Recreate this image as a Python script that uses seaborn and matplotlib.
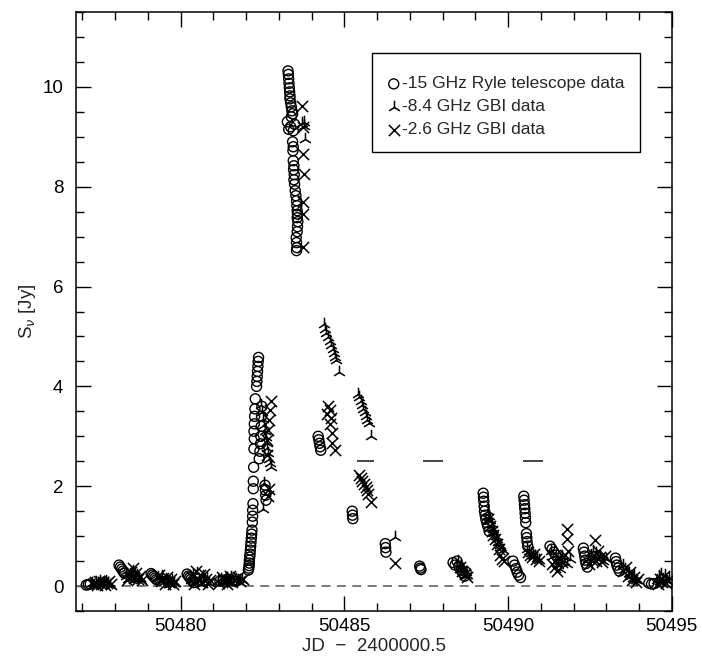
import matplotlib
matplotlib.use("Agg")
import matplotlib.pyplot as plt
from matplotlib.ticker import MultipleLocator
import seaborn as sns
import pandas as pd

# 15 GHz Ryle telescope light curve
ryle_day = [
    50477.12, 50477.18, 50477.24,
    50478.12, 50478.16, 50478.20, 50478.24, 50478.28,
    50479.10, 50479.14, 50479.18, 50479.22, 50479.26,
    50480.20, 50480.24, 50480.28, 50480.32, 50480.36, 50480.40,
    50481.20, 50481.30, 50481.40, 50481.50, 50481.60, 50481.70,
    50482.07, 50482.08, 50482.09, 50482.10, 50482.10, 50482.11, 50482.12, 50482.13,
    50482.14, 50482.15, 50482.16, 50482.17, 50482.18,
    50482.19, 50482.20, 50482.20, 50482.21,
    50482.22, 50482.22, 50482.23, 50482.24, 50482.25,
    50482.24, 50482.25, 50482.26, 50482.27, 50482.28,
    50482.40, 50482.42, 50482.44, 50482.45, 50482.46, 50482.47, 50482.48,
    50482.32, 50482.33, 50482.34, 50482.35, 50482.36, 50482.37, 50482.38,
    50482.58, 50482.59, 50482.60, 50482.61,
    50483.28, 50483.29, 50483.30, 50483.31, 50483.32, 50483.33, 50483.34,
    50483.34, 50483.36, 50483.38, 50483.40, 50483.42, 50483.38,
    50483.26, 50483.48, 50483.30, 50483.44, 50483.36,
    50483.42, 50483.44, 50483.43,
    50483.44, 50483.46, 50483.45, 50483.47, 50483.46, 50483.48,
    50483.50, 50483.52, 50483.54, 50483.55, 50483.56, 50483.57, 50483.56, 50483.58,
    50483.57, 50483.56,
    50483.53, 50483.54, 50483.55, 50483.54,
    50484.20, 50484.22, 50484.24, 50484.26, 50484.28,
    50485.24, 50485.25, 50485.26,
    50486.25, 50486.26, 50486.27,
    50487.30, 50487.32, 50487.34,
    50488.32, 50488.38, 50488.44, 50488.50, 50488.56, 50488.62, 50488.68, 50488.72,
    50489.24, 50489.25, 50489.26, 50489.27, 50489.28, 50489.30, 50489.32, 50489.35,
    50489.38, 50489.42,
    50490.15, 50490.20, 50490.24, 50490.28, 50490.32, 50490.38,
    50490.48, 50490.49, 50490.50, 50490.51, 50490.52, 50490.53, 50490.54, 50490.56,
    50490.57, 50490.58, 50490.60,
    50491.28, 50491.34, 50491.40, 50491.46, 50491.52, 50491.58,
    50492.30, 50492.32, 50492.34, 50492.36, 50492.38, 50492.42,
    50493.28, 50493.30, 50493.32, 50493.36, 50493.40,
    50494.30, 50494.38, 50494.46,
]
ryle_flux = [
    0.02, 0.03, 0.04,
    0.42, 0.38, 0.34, 0.30, 0.26,
    0.25, 0.22, 0.19, 0.16, 0.13,
    0.24, 0.20, 0.17, 0.14, 0.10, 0.07,
    0.10, 0.12, 0.09, 0.13, 0.11, 0.10,
    0.32, 0.36, 0.41, 0.46, 0.52, 0.58, 0.64, 0.72,
    0.80, 0.88, 0.96, 1.04, 1.12,
    1.28, 1.40, 1.52, 1.65,
    1.95, 2.10, 2.38, 2.75, 2.95,
    3.10, 3.25, 3.40, 3.55, 3.75,
    2.55, 2.70, 2.85, 3.00, 3.20, 3.40, 3.60,
    4.00, 4.10, 4.20, 4.30, 4.40, 4.50, 4.58,
    2.02, 1.92, 1.82, 1.72,
    10.32, 10.25, 10.16, 10.07, 9.98, 9.90, 9.82,
    9.76, 9.68, 9.60, 9.52, 9.46, 9.40,
    9.30, 9.25, 9.15, 9.12, 9.20,
    8.90, 8.80, 8.72,
    8.52, 8.42, 8.34, 8.24, 8.14, 8.05,
    7.92, 7.82, 7.72, 7.62, 7.52, 7.45, 7.38, 7.30,
    7.20, 7.10,
    6.98, 6.88, 6.78, 6.72,
    3.00, 2.93, 2.86, 2.79, 2.72,
    1.50, 1.42, 1.35,
    0.85, 0.77, 0.68,
    0.40, 0.36, 0.33,
    0.47, 0.42, 0.50, 0.40, 0.32, 0.26, 0.20, 0.28,
    1.86, 1.78, 1.70, 1.60, 1.50, 1.42, 1.34, 1.27,
    1.20, 1.10,
    0.50, 0.42, 0.35, 0.28, 0.22, 0.17,
    1.80, 1.72, 1.63, 1.55, 1.46, 1.37, 1.27, 1.05,
    0.97, 0.89, 0.80,
    0.80, 0.74, 0.68, 0.62, 0.56, 0.50,
    0.76, 0.68, 0.60, 0.52, 0.45, 0.38,
    0.56, 0.49, 0.42, 0.36, 0.30,
    0.06, 0.04, 0.05,
]

# 8.4 GHz GBI light curve
gbi8_day = [
    50477.30, 50477.36, 50477.42, 50477.48, 50477.54, 50477.60, 50477.66, 50477.72,
    50477.78, 50477.84,
    50478.32, 50478.38, 50478.44, 50478.50, 50478.56, 50478.60, 50478.66, 50478.72,
    50478.78,
    50479.32, 50479.38, 50479.44, 50479.50, 50479.56, 50479.62, 50479.68, 50479.74,
    50479.80,
    50480.32, 50480.38, 50480.44, 50480.50, 50480.56, 50480.62, 50480.68, 50480.74,
    50480.80, 50480.86,
    50481.15, 50481.22, 50481.30, 50481.38, 50481.46, 50481.54, 50481.62, 50481.70,
    50481.78, 50481.86,
    50482.46, 50482.50, 50482.53, 50482.56, 50482.58, 50482.60, 50482.63, 50482.65,
    50482.68, 50482.70, 50482.72, 50482.75,
    50482.56, 50482.53,
    50483.72, 50483.76, 50483.78, 50483.80,
    50484.38, 50484.42, 50484.45, 50484.50, 50484.55, 50484.60, 50484.64, 50484.68,
    50484.72, 50484.76, 50484.84,
    50485.42, 50485.46, 50485.50, 50485.54, 50485.58, 50485.62, 50485.66, 50485.70,
    50485.74, 50485.82,
    50486.55,
    50488.48, 50488.55, 50488.62, 50488.70, 50488.76,
    50489.38, 50489.42, 50489.46, 50489.50, 50489.54, 50489.58, 50489.62, 50489.66,
    50489.70, 50489.74, 50489.78, 50489.84,
    50490.58, 50490.64, 50490.70, 50490.76, 50490.82, 50490.88, 50490.94,
    50491.30, 50491.38, 50491.45, 50491.52, 50491.58, 50491.65, 50491.72, 50491.80,
    50491.90,
    50492.45, 50492.52, 50492.58, 50492.64, 50492.70, 50492.76, 50492.82, 50492.90,
    50492.98,
    50493.50, 50493.56, 50493.62, 50493.68, 50493.74, 50493.80, 50493.86, 50493.92,
    50494.56, 50494.62, 50494.68, 50494.74, 50494.80, 50494.86, 50494.92,
]
gbi8_flux = [
    0.06, 0.03, 0.09, 0.05, 0.11, 0.07, 0.04, 0.10,
    0.06, 0.03,
    0.20, 0.15, 0.24, 0.18, 0.30, 0.14, 0.22, 0.17,
    0.13,
    0.18, 0.12, 0.20, 0.08, 0.15, 0.10, 0.05, 0.12,
    0.07,
    0.12, 0.22, 0.08, 0.26, 0.15, 0.05, 0.20, 0.10,
    0.16, 0.06,
    0.10, 0.14, 0.08, 0.16, 0.12, 0.18, 0.10, 0.15,
    0.08, 0.12,
    3.62, 3.48, 3.35, 3.22, 3.10, 2.98, 2.87, 2.76,
    2.66, 2.55, 2.46, 2.38,
    2.07, 1.55,
    9.28, 9.22, 9.30, 8.95,
    5.25, 5.15, 5.06, 4.98, 4.90, 4.82, 4.74, 4.66,
    4.58, 4.52, 4.28,
    3.85, 3.78, 3.70, 3.62, 3.55, 3.48, 3.40, 3.32,
    3.26, 3.00,
    0.98,
    0.50, 0.42, 0.35, 0.28, 0.22,
    1.50, 1.40, 1.32, 1.25, 1.15, 1.08, 1.00, 0.94,
    0.88, 0.82, 0.78, 0.72,
    0.75, 0.70, 0.66, 0.62, 0.60, 0.56, 0.52,
    0.70, 0.60, 0.50, 0.42, 0.35, 0.60, 0.50, 0.45,
    0.55,
    0.55, 0.62, 0.70, 0.58, 0.66, 0.55, 0.60, 0.50,
    0.55,
    0.42, 0.35, 0.30, 0.26, 0.20, 0.16, 0.22, 0.12,
    0.12, 0.20, 0.25, 0.15, 0.22, 0.10, 0.16,
]

# 2.6 GHz GBI light curve
gbi2_day = [
    50477.33, 50477.39, 50477.45, 50477.51, 50477.57, 50477.63, 50477.69, 50477.75,
    50477.81, 50477.87,
    50478.35, 50478.42, 50478.48, 50478.54, 50478.58, 50478.64, 50478.70, 50478.76,
    50478.82,
    50479.35, 50479.41, 50479.47, 50479.53, 50479.59, 50479.65, 50479.71, 50479.77,
    50479.84,
    50480.35, 50480.41, 50480.47, 50480.53, 50480.59, 50480.65, 50480.71, 50480.77,
    50480.83, 50480.90,
    50481.18, 50481.26, 50481.34, 50481.42, 50481.50, 50481.58, 50481.66, 50481.74,
    50481.82, 50481.92,
    50482.77, 50482.74, 50482.70, 50482.67, 50482.63, 50482.65, 50482.70, 50482.68,
    50483.72, 50483.74, 50483.74, 50483.76, 50483.74, 50483.75, 50483.74,
    50484.50, 50484.55, 50484.48, 50484.60, 50484.55, 50484.62, 50484.62, 50484.70,
    50485.45, 50485.50, 50485.55, 50485.60, 50485.65, 50485.70, 50485.72, 50485.82,
    50486.55,
    50488.52, 50488.60, 50488.68, 50488.74,
    50489.40, 50489.45, 50489.50, 50489.55, 50489.60, 50489.66, 50489.72, 50489.76,
    50489.80, 50489.88,
    50490.60, 50490.68, 50490.74, 50490.80, 50490.86, 50490.95,
    50491.35, 50491.42, 50491.50, 50491.58, 50491.66, 50491.74, 50491.82, 50491.80,
    50491.80,
    50492.48, 50492.55, 50492.62, 50492.68, 50492.74, 50492.80, 50492.86, 50492.95,
    50492.65,
    50493.52, 50493.60, 50493.66, 50493.72, 50493.78, 50493.84, 50493.90, 50493.98,
    50494.58, 50494.64, 50494.70, 50494.76, 50494.82, 50494.88,
]
gbi2_flux = [
    0.04, 0.08, 0.02, 0.10, 0.05, 0.09, 0.03, 0.07,
    0.10, 0.05,
    0.12, 0.19, 0.28, 0.36, 0.16, 0.26, 0.14, 0.20,
    0.12,
    0.22, 0.10, 0.16, 0.05, 0.19, 0.08, 0.14, 0.04,
    0.10,
    0.18, 0.04, 0.30, 0.12, 0.22, 0.08, 0.25, 0.14,
    0.05, 0.12,
    0.06, 0.18, 0.12, 0.05, 0.20, 0.08, 0.14, 0.19,
    0.10, 0.14,
    3.70, 3.52, 3.32, 3.12, 2.92, 2.62, 1.95, 1.80,
    9.62, 9.20, 8.65, 8.25, 7.70, 7.45, 6.80,
    3.60, 3.52, 3.44, 3.36, 3.25, 3.07, 2.87, 2.73,
    2.22, 2.16, 2.10, 2.05, 1.98, 1.92, 1.85, 1.69,
    0.46,
    0.38, 0.30, 0.24, 0.18,
    1.35, 1.20, 1.10, 1.02, 0.95, 0.85, 0.75, 0.62,
    0.55, 0.50,
    0.68, 0.62, 0.58, 0.64, 0.54, 0.50,
    0.45, 0.38, 0.30, 0.55, 0.48, 0.62, 0.70, 1.15,
    0.95,
    0.45, 0.52, 0.62, 0.50, 0.70, 0.58, 0.48, 0.60,
    0.92,
    0.30, 0.38, 0.20, 0.28, 0.12, 0.18, 0.08, 0.14,
    0.05, 0.15, 0.08, 0.20, 0.06, 0.12,
]

# Short horizontal bars at 2.5 Jy
bar_start = [50485.40, 50487.41, 50490.46]
bar_end = [50485.91, 50488.02, 50491.07]
bar_level = [2.5, 2.5, 2.5]

labels = ["-15 GHz Ryle telescope data", "-8.4 GHz GBI data", "-2.6 GHz GBI data"]

ryle = pd.DataFrame({"day": ryle_day, "flux": ryle_flux})
gbi8 = pd.DataFrame({"day": gbi8_day, "flux": gbi8_flux})
gbi2 = pd.DataFrame({"day": gbi2_day, "flux": gbi2_flux})

sns.set_theme(style="ticks")
plt.rcParams["font.family"] = ["Liberation Sans", "DejaVu Sans"]

fig = plt.figure(figsize=(7.02, 6.59), dpi=100)
ax = fig.add_axes([0.108, 0.0728, 0.849, 0.909])

ax.axhline(0, color="#707070", lw=1.3, ls=(0, (5, 3.5)), zorder=1)
ax.hlines(bar_level, bar_start, bar_end, color="#444444", lw=1.4, zorder=2)

sns.scatterplot(data=ryle, x="day", y="flux", ax=ax, marker="o", s=52,
                facecolor="none", edgecolor="black", linewidth=1.0,
                label=labels[0], zorder=3)
sns.scatterplot(data=gbi8, x="day", y="flux", ax=ax, marker="2", s=95,
                color="black", linewidth=1.1, label=labels[1], zorder=3)
sns.scatterplot(data=gbi2, x="day", y="flux", ax=ax, marker="x", s=65,
                color="black", linewidth=1.1, label=labels[2], zorder=3)

ax.set_xlim(50476.8, 50495)
ax.set_ylim(-0.5, 11.5)
ax.xaxis.set_major_locator(MultipleLocator(5))
ax.xaxis.set_minor_locator(MultipleLocator(1))
ax.yaxis.set_major_locator(MultipleLocator(2))
ax.yaxis.set_minor_locator(MultipleLocator(0.5))
ax.ticklabel_format(axis="x", useOffset=False, style="plain")
ax.tick_params(which="both", direction="in", top=True, right=True,
               colors="black", labelsize=13.5, width=1.0)
ax.tick_params(which="major", length=11)
ax.tick_params(axis="x", which="major", pad=5)
ax.tick_params(axis="y", which="major", pad=9)
ax.tick_params(which="minor", length=6)
for side in ax.spines.values():
    side.set_color("black")
    side.set_linewidth(1.1)

ax.set_xlabel("JD  \u2212  2400000.5", fontsize=13.5, labelpad=2)
ax.set_ylabel(r"S$_\nu$ [Jy]", fontsize=13.5, labelpad=3)

leg = ax.legend(loc="upper left", bbox_to_anchor=(0.497, 0.932),
                frameon=True, fancybox=False, edgecolor="black",
                framealpha=1, fontsize=12.5, borderpad=0.85, labelspacing=0.45,
                handlelength=0.8, handletextpad=0.1, borderaxespad=0,
                title=" ", title_fontsize=1)
leg.get_frame().set_linewidth(1.0)

fig.savefig("out.png", dpi=100)
